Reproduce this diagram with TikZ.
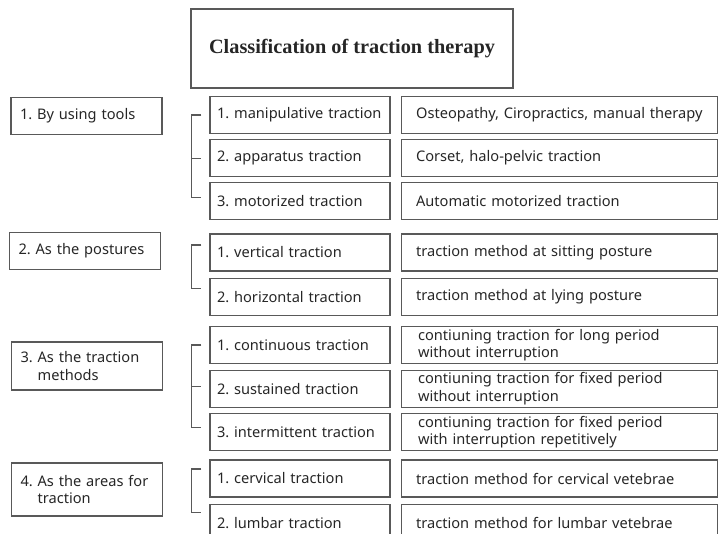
\documentclass[tikz,border=0pt]{standalone}
\usepackage{fontspec}
\setmainfont{Noto Sans}
\newfontfamily\titlefont{Liberation Serif}
\usetikzlibrary{positioning}
\frenchspacing
\begin{document}
\begin{tikzpicture}[x=1pt, y=-1pt,
    box/.style = {draw=black!65, line width=1.1pt, minimum height=37pt, inner ysep=1pt, align=left, text=black!85, font=\fontsize{14.6}{17.5}\selectfont},
    cat/.style = {box, text width=133pt, inner xsep=9pt},
    kind/.style = {box, text width=166pt, inner xsep=7pt},
    desc/.style = {box, text width=294pt, inner xsep=11pt},
    brk/.style = {draw=black!65, line width=1.1pt}]
    \useasboundingbox (0,0) rectangle (718,534);
    \clip (0,0) rectangle (718,534);
    \node[draw=black!65, line width=1.1pt, minimum width=322pt, minimum height=79pt, text=black!85, font=\titlefont\bfseries\fontsize{20.3}{24}\selectfont] (title) at (352,48.5) {Classification of traction therapy};
    % categories
    \node[cat] (c1) at (86.5,116) {1. By using tools};
    \node[cat] (c2) at (85,251) {2. As the postures};
    \node[cat, minimum height=48pt] (c3) at (87,366) {3.~As the traction\\\phantom{3.~}methods};
    \node[cat, minimum height=53pt] (c4) at (87,489.5) {4.~As the areas for\\\phantom{4.~}traction};
    % by using tools
    \node[kind] (m11) at (300,115) {1. manipulative traction};
    \node[kind] (m12) [below=5pt of m11] {2. apparatus traction};
    \node[kind] (m13) [below=5pt of m12] {3. motorized traction};
    \node[desc] (d11) [right=10pt of m11] {\hspace*{4pt}Osteopathy, Ciropractics, manual therapy};
    \node[desc] (d12) [right=10pt of m12] {\hspace*{4pt}Corset, halo-pelvic traction};
    \node[desc] (d13) [right=10pt of m13] {\hspace*{4pt}Automatic motorized traction};
    % as the postures
    \node[kind] (m21) at (300,252.5) {1. vertical traction};
    \node[kind] (m22) [below=6pt of m21] {2. horizontal traction};
    \node[desc] (d21) [right=10pt of m21] {\hspace*{4pt}traction method at sitting posture};
    \node[desc] (d22) [right=10pt of m22] {\hspace*{4pt}traction method at lying posture};
    % as the traction methods
    \node[kind] (m31) at (300,345) {1. continuous traction};
    \node[kind] (m32) [below=5.5pt of m31] {2. sustained traction};
    \node[kind] (m33) [below=5.5pt of m32] {3. intermittent traction};
    \node[desc] (d31) [right=10pt of m31] {\hspace*{6pt}contiuning traction for long period\\\hspace*{6pt}without interruption};
    \node[desc] (d32) [right=10pt of m32] {\hspace*{6pt}contiuning traction for fixed period\\\hspace*{6pt}without interruption};
    \node[desc] (d33) [right=10pt of m33] {\hspace*{6pt}contiuning traction for fixed period\\\hspace*{6pt}with interruption repetitively};
    % as the areas for traction
    \node[kind] (m41) at (300,478.5) {1. cervical traction};
    \node[kind] (m42) [below=6pt of m41] {2. lumbar traction};
    \node[desc] (d41) [right=10pt of m41] {\hspace*{4pt}traction method for cervical vetebrae};
    \node[desc] (d42) [right=10pt of m42] {\hspace*{4pt}traction method for lumbar vetebrae};
    % brackets
    \draw[brk] ([xshift=-8pt]m11.west) -| ([xshift=-18pt,yshift=4pt]m13.west) -- ([xshift=-8pt,yshift=4pt]m13.west);
    \draw[brk] ([xshift=-18pt]m12.west) -- ([xshift=-8pt]m12.west);
    \draw[brk] ([xshift=-8pt,yshift=7.5pt]m21.west) -| ([xshift=-18pt,yshift=8.5pt]m22.west) -- ([xshift=-8pt,yshift=8.5pt]m22.west);
    \draw[brk] ([xshift=-8pt]m31.west) -| ([xshift=-18pt,yshift=5pt]m33.west) -- ([xshift=-8pt,yshift=5pt]m33.west);
    \draw[brk] ([xshift=-18pt,yshift=2.5pt]m32.west) -- ([xshift=-8pt,yshift=2.5pt]m32.west);
    \draw[brk] ([xshift=-8pt,yshift=9.5pt]m41.west) -| ([xshift=-18pt,yshift=10.5pt]m42.west) -- ([xshift=-8pt,yshift=10.5pt]m42.west);
\end{tikzpicture}
\end{document}
